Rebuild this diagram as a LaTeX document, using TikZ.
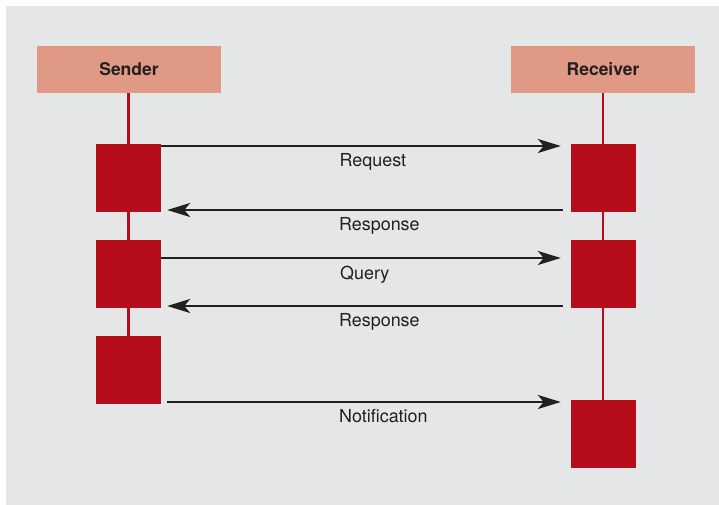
\documentclass[tikz,border=0pt]{standalone}
\usepackage{fontspec}
\setmainfont{TeX Gyre Heros}
\usetikzlibrary{arrows.meta,calc}
\definecolor{bg}{HTML}{E5E6E8}
\definecolor{hdr}{HTML}{E09985}
\definecolor{act}{HTML}{B50E1A}
\definecolor{ink}{HTML}{231F20}
\begin{document}
\begin{tikzpicture}[x=1pt,y=-1pt,
  header/.style={fill=hdr,minimum width=184pt,minimum height=47pt,inner sep=0pt,
    font=\fontsize{17.5pt}{20pt}\selectfont\bfseries,text=ink},
  actbox/.style={fill=act,minimum width=65pt,minimum height=68pt,inner sep=0pt},
  lifeline/.style={draw=act,line width=2.5pt},
  msg/.style={draw=ink,line width=2.6pt,-{Stealth[length=23pt,width=14pt,inset=6pt]}},
  lbl/.style={anchor=base west,inner sep=0pt,text=ink,font=\fontsize{17.9pt}{20pt}\selectfont}]
\useasboundingbox (0,0) rectangle (719,505);
\fill[bg] (6,6) rectangle (719,505);
% headers
\node[header] (snd) at (129,69.5) {Sender};
\node[header] (rcv) at (603,69.5) {Receiver};
% lifeline anchors
\coordinate (sEnd) at (128.5,370);
\coordinate (rEnd) at (603,434);
\draw[lifeline] (snd.south -| sEnd) -- (sEnd);
\draw[lifeline] (rcv.south -| rEnd) -- (rEnd);
% activation boxes
\node[actbox] (s1) at (128.5,178) {};
\node[actbox] (s2) at (128.5,274) {};
\node[actbox] (s3) at (128.5,370) {};
\node[actbox] (r1) at (603.5,178) {};
\node[actbox] (r2) at (603.5,274) {};
\node[actbox] (r3) at (603.5,434) {};
% messages
\draw[msg,shorten >=10pt] (s1.east |- 0,146) -- (r1.west |- 0,146);
\draw[msg,shorten <=8pt,shorten >=6pt] (r1.west |- 0,210) -- (s1.east |- 0,210);
\draw[msg,shorten >=10pt] (s2.east |- 0,258) -- (r2.west |- 0,258);
\draw[msg,shorten <=8pt,shorten >=6pt] (r2.west |- 0,306) -- (s2.east |- 0,306);
\draw[msg,shorten <=6pt,shorten >=10pt] (s3.east |- 0,402) -- (r3.west |- 0,402);
% labels
\node[lbl] (l1) at (339.5,167) {Request};
\node[lbl] (l2) at (339,230.5) {Response};
\node[lbl] (l3) at (340,279) {Query};
\node[lbl] (l4) at (339,326.5) {Response};
\node[lbl] (l5) at (339,422.5) {Notification};
\end{tikzpicture}
\end{document}
